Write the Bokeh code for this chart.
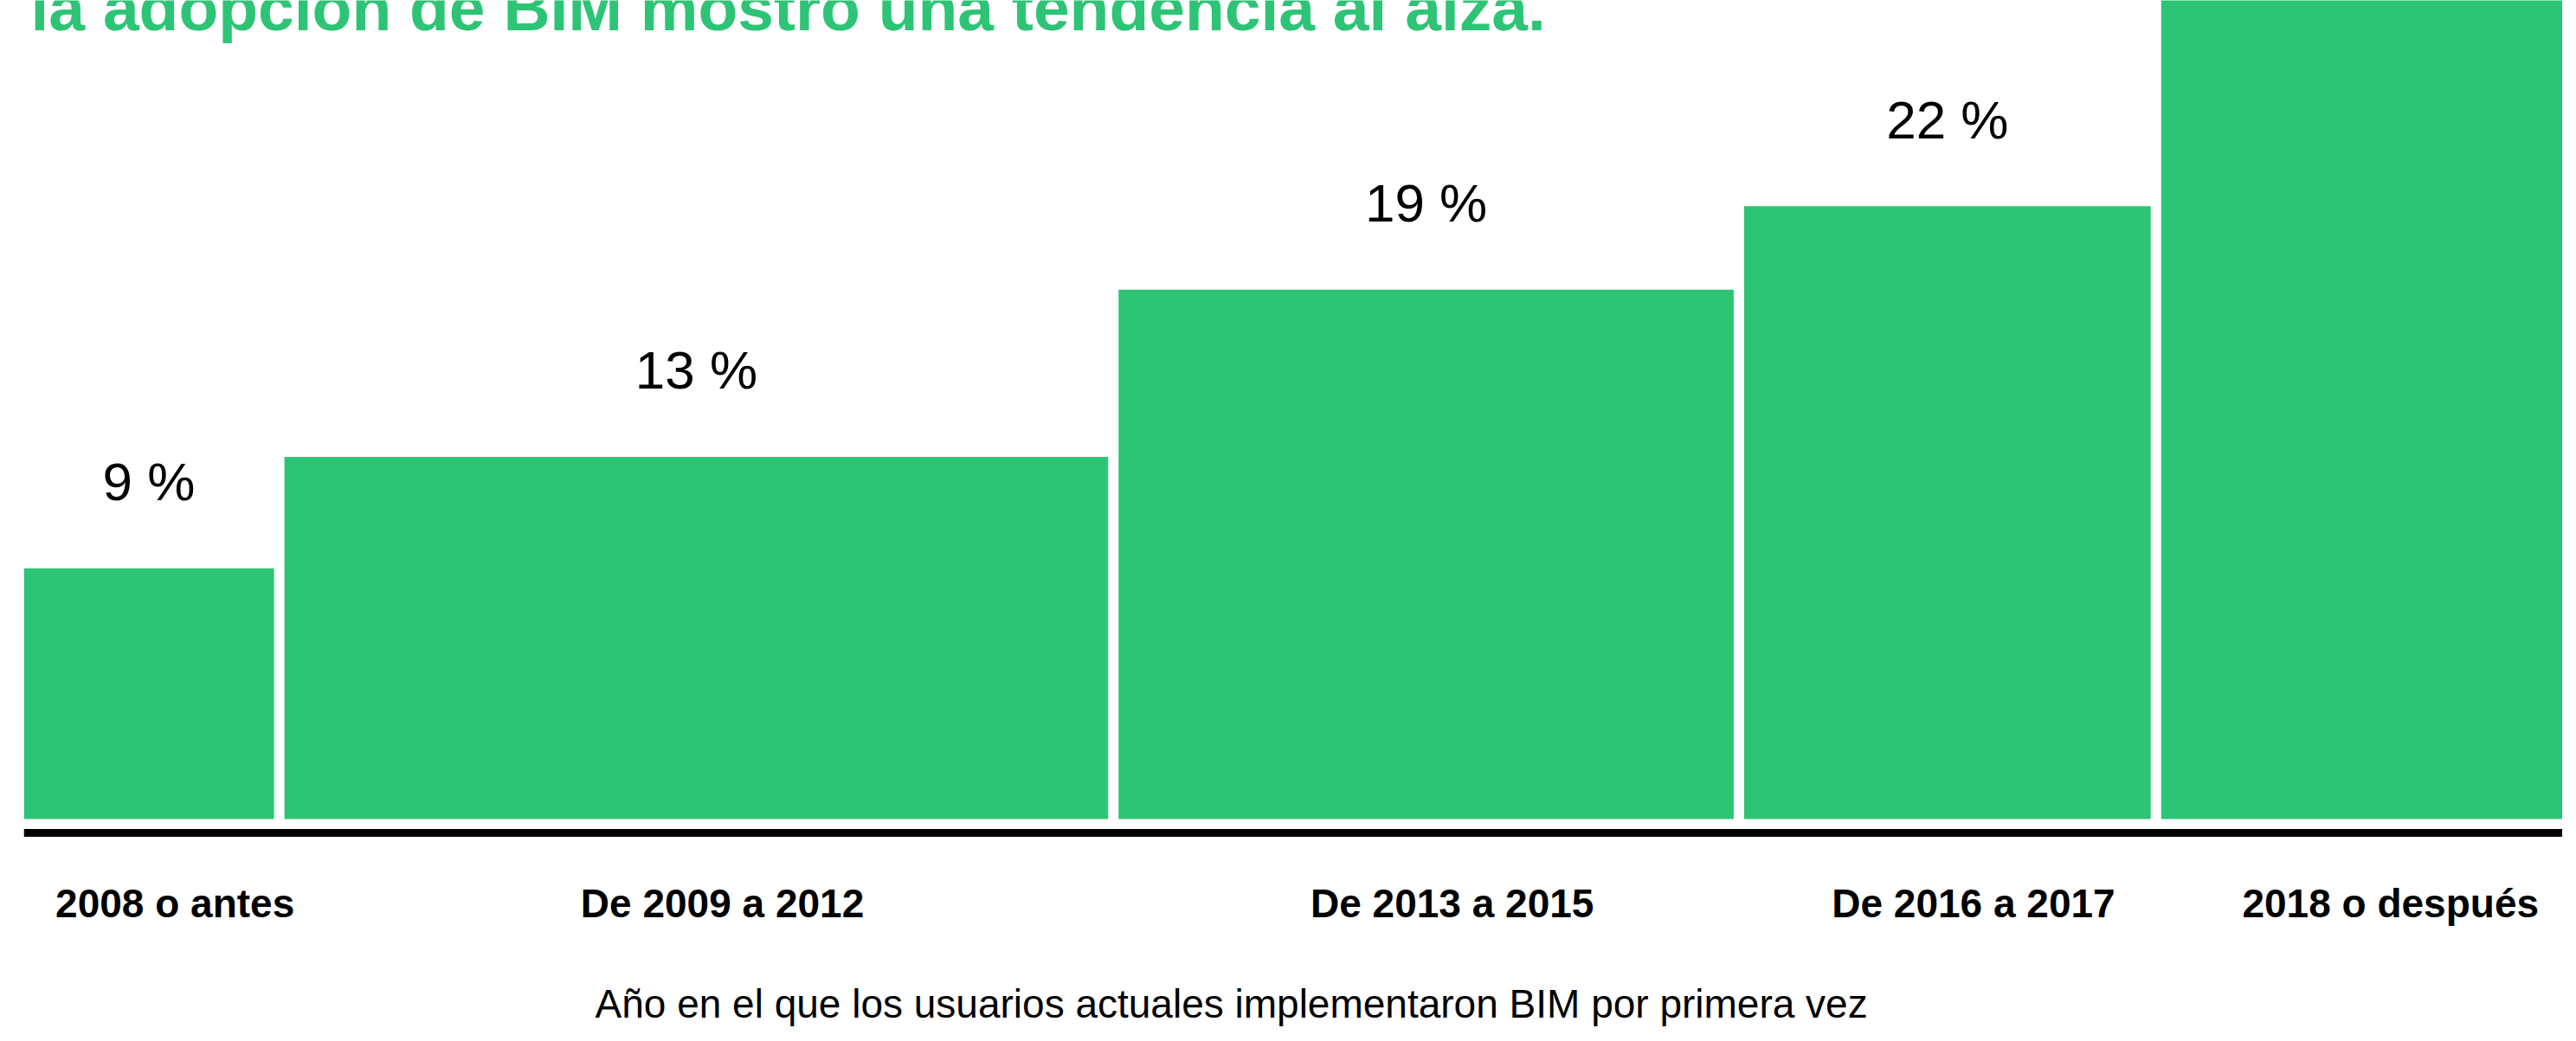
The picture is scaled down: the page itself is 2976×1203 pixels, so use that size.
from bokeh.plotting import figure
from bokeh.models import ColumnDataSource, Range1d, FixedTicker, Label
from bokeh.core.properties import value
from bokeh.embed import file_html
from bokeh.resources import INLINE

# ---- data ----
periods = ["2008 o antes", "De 2009 a 2012", "De 2013 a 2015", "De 2016 a 2017", "2018 o después"]
span_years = [1.25, 4, 3, 2, 2]          # bar widths (years covered by each period)
shares = [9, 13, 19, 22, 37]             # % of current users
title_text = "la adopción de BIM mostró una tendencia al alza."
x_title = "Año en el que los usuarios actuales implementaron BIM por primera vez"

GREEN = "#2DC476"
FONT_NAME = "Liberation Sans"
FONT = value(FONT_NAME)
gap = 0.05

edges = [0.0]
for w in span_years:
    edges.append(edges[-1] + w)
left = [e + gap / 2 for e in edges[:-1]]
right = [e - gap / 2 for e in edges[1:]]
centers = [(a + b) / 2 for a, b in zip(edges[:-1], edges[1:])]
labels = [f"{v} %" for v in shares]

src = ColumnDataSource(dict(left=left, right=right, top=shares, bottom=[0] * len(shares),
                            x=centers, y=shares, label=labels))

p = figure(width=2960, height=1187, output_backend="svg", toolbar_location=None,
           x_range=Range1d(gap / 2, 12.2), y_range=Range1d(-7.48, 29.38),
           min_border_left=27, min_border_right=0, min_border_top=0, min_border_bottom=0)
p.outline_line_color = None
p.grid.visible = False
p.yaxis.visible = False
p.background_fill_color = "white"
p.border_fill_color = "white"

p.quad(left="left", right="right", top="top", bottom="bottom", source=src,
       fill_color=GREEN, line_color=None)
p.text(x="x", y="y", text="label", source=src, text_align="center", text_baseline="middle",
       y_offset=-100, text_font=FONT, text_font_size="62px", text_color="black")

ax = p.xaxis[0]
ax.fixed_location = -0.5
tick_pos = [c + 0.125 for c in centers]
ax.ticker = FixedTicker(ticks=tick_pos)
ax.major_label_overrides = {t: lab for t, lab in zip(tick_pos, periods)}
ax.axis_line_width = 9
ax.axis_line_color = "black"
ax.major_tick_out = 0
ax.major_tick_in = 0
ax.minor_tick_out = 0
ax.minor_tick_in = 0
ax.major_label_standoff = 55
ax.major_label_text_font = FONT_NAME
ax.major_label_text_font_size = "46px"
ax.major_label_text_font_style = "bold"
ax.major_label_text_color = "black"

# axis title, below the tick labels
p.add_layout(Label(x=660, y=28, x_units="screen", y_units="screen", text=x_title,
                   text_font=FONT_NAME, text_font_size="46px", text_font_style="normal",
                   text_color="black", text_baseline="alphabetic"))

# chart title (cropped at the top edge, as in the reference)
p.add_layout(Label(x=8, y=1179, x_units="screen", y_units="screen", text=title_text,
                   text_font=FONT_NAME, text_font_size="75px", text_font_style="bold",
                   text_color=GREEN, text_baseline="alphabetic"))

open("out.html", "w").write(file_html(p, INLINE))
